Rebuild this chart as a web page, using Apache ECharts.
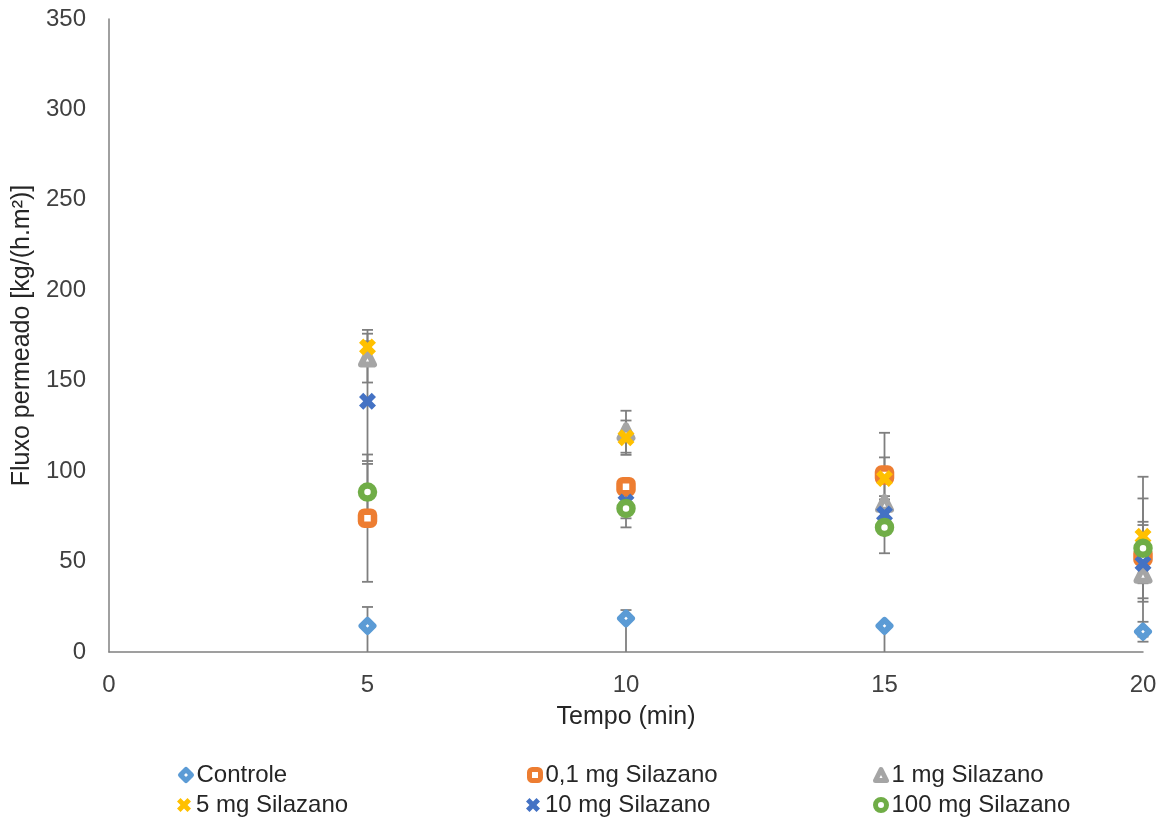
<!DOCTYPE html>
<html>
<head>
<meta charset="utf-8">
<script src="https://cdn.jsdelivr.net/npm/echarts@6/dist/echarts.min.js"></script>
<style>html,body{margin:0;padding:0;background:#fff}#c{width:1165px;height:820px}</style>
</head>
<body>
<div id="c"></div>
<script>
// ---- data ----
const xValues = [5, 10, 15, 20];
const seriesNames = ['Controle', '0,1 mg Silazano', '1 mg Silazano', '5 mg Silazano', '10 mg Silazano', '100 mg Silazano'];
const controle    = [14.4, 18.6, 14.4, 11.2];
const silazano01  = [74.0, 91.4, 97.8, 52.7];
const silazano1   = [162.5, 121.8, 82.2, 43.0];
const silazano5   = [168.6, 118.5, 96.0, 64.0];
const silazano10  = [138.7, 83.0, 76.3, 49.0];
const silazano100 = [88.4, 79.4, 68.9, 57.3];
// error bars (upper / lower extents)
const controleErrUp    = [10.5, 4.6, 2.0, 5.5];
const controleErrDown  = [16.0, 20.0, 16.0, 5.5];
const silazano01Err    = [35.2, 4.0, 23.4, 44.2];
const silazano1Err     = [13.5, 11.6, 4.0, 5.0];
const silazano5Err     = [9.5, 9.5, 11.6, 8.0];
const silazano10Err    = [33.1, 9.1, 3.0, 21.2];
const silazano100Err   = [15.6, 10.5, 14.3, 27.6];
const xTicks = [0, 5, 10, 15, 20];
const yTicks = [0, 50, 100, 150, 200, 250, 300, 350];

// ---- styling ----
const FONT = "'Liberation Sans', Arial, sans-serif";
const colors = ['#5B9BD5', '#ED7D31', '#A5A5A5', '#FFC000', '#4472C4', '#70AD47'];
const X_PATH = 'path://M0,2.5L2.5,0L5,2.5L7.5,0L10,2.5L7.5,5L10,7.5L7.5,10L5,7.5L2.5,10L0,7.5L2.5,5Z';

const values = [controle, silazano01, silazano1, silazano5, silazano10, silazano100];
const errUp = [controleErrUp, silazano01Err, silazano1Err, silazano5Err, silazano10Err, silazano100Err];
const errDown = [controleErrDown, silazano01Err, silazano1Err, silazano5Err, silazano10Err, silazano100Err];

const markers = [
  {symbol: 'diamond', size: 12, fill: '#fff', bw: 6},
  {symbol: 'roundRect', size: 13, fill: '#fff', bw: 6.5},
  {symbol: 'triangle', size: 13, fill: '#fff', bw: 6},
  {symbol: X_PATH, size: 17, fill: null, bw: 0},
  {symbol: X_PATH, size: 17, fill: null, bw: 0},
  {symbol: 'circle', size: 13, fill: '#fff', bw: 6.5}
];
const legendIcons = [
  {w: 11, h: 11, bw: 5},
  {w: 11, h: 11, bw: 5},
  {w: 11, h: 11, bw: 5},
  {w: 14, h: 14, bw: 0},
  {w: 14, h: 14, bw: 0},
  {w: 11, h: 11, bw: 5}
];
const legendPos = [
  [178, 763], [527, 763], [873, 763],
  [177, 793], [526, 793], [873, 793]
];
const legendOrder = [0, 1, 2, 3, 4, 5];

// error bar data
const errData = [];
values.forEach((vals, s) => {
  vals.forEach((v, i) => {
    errData.push([xValues[i], v - errDown[s][i], v + errUp[s][i]]);
  });
});

const series = [{
  type: 'custom',
  name: 'err',
  z: 1,
  silent: true,
  data: errData,
  encode: {x: 0, y: [1, 2]},
  renderItem: function (params, api) {
    const x = api.value(0);
    const lo = api.value(1);
    const hi = api.value(2);
    const loC = Math.max(lo, 0);
    const pLo = api.coord([x, loC]);
    const pHi = api.coord([x, hi]);
    const style = {stroke: '#7F7F7F', lineWidth: 1.8};
    const hw = 5.5;
    const children = [{type: 'line', shape: {x1: pLo[0], y1: pLo[1], x2: pHi[0], y2: pHi[1]}, style: style}];
    children.push({type: 'line', shape: {x1: pHi[0] - hw, y1: pHi[1], x2: pHi[0] + hw, y2: pHi[1]}, style: style});
    if (lo > 0) {
      children.push({type: 'line', shape: {x1: pLo[0] - hw, y1: pLo[1], x2: pLo[0] + hw, y2: pLo[1]}, style: style});
    }
    return {type: 'group', children: children};
  }
}];

values.forEach((vals, s) => {
  const m = markers[s];
  series.push({
    type: 'scatter',
    name: seriesNames[s],
    z: 2 + s,
    data: vals.map((v, i) => [xValues[i], v]),
    symbol: m.symbol,
    symbolSize: m.size,
    itemStyle: m.fill ? {color: m.fill, borderColor: colors[s], borderWidth: m.bw, borderJoin: 'round', opacity: 1}
                      : {color: colors[s], borderWidth: 0, opacity: 1},
    emphasis: {disabled: true}
  });
});

const legends = legendOrder.map((s, k) => ({
  data: [seriesNames[s]],
  left: legendPos[k][0],
  top: legendPos[k][1],
  padding: 0,
  itemGap: 0,
  itemWidth: legendIcons[s].w,
  itemHeight: legendIcons[s].h,
  selectedMode: false,
  itemStyle: legendIcons[s].bw ? {borderWidth: legendIcons[s].bw, borderJoin: 'round'} : {borderWidth: 0},
  textStyle: {fontFamily: FONT, fontSize: 24, color: '#262626', padding: [0, 0, 0, 0]}
}));

const option = {
  animation: false,
  backgroundColor: '#fff',
  color: colors,
  grid: {left: 109, right: 22, top: 19, bottom: 168, containLabel: false},
  legend: legends,
  xAxis: {
    type: 'value',
    min: xTicks[0], max: xTicks[xTicks.length - 1], interval: 5,
    name: 'Tempo (min)',
    nameLocation: 'middle',
    nameGap: 53,
    nameTextStyle: {fontFamily: FONT, fontSize: 25, color: '#262626'},
    axisLine: {show: true, onZero: false, lineStyle: {color: '#808080', width: 1.5}},
    axisTick: {show: false},
    splitLine: {show: false},
    axisLabel: {fontFamily: FONT, fontSize: 24, color: '#404040', margin: 21}
  },
  yAxis: {
    type: 'value',
    min: yTicks[0], max: yTicks[yTicks.length - 1], interval: 50,
    name: 'Fluxo permeado [kg/(h.m²)]',
    nameLocation: 'middle',
    nameGap: 74,
    nameTextStyle: {fontFamily: FONT, fontSize: 25, color: '#262626'},
    axisLine: {show: true, onZero: false, lineStyle: {color: '#808080', width: 1.5}},
    axisTick: {show: false},
    splitLine: {show: false},
    axisLabel: {fontFamily: FONT, fontSize: 24, color: '#404040', margin: 23}
  },
  series: series
};

const chart = echarts.init(document.getElementById('c'), null, {renderer: 'canvas'});
chart.setOption(option);
</script>
</body>
</html>
